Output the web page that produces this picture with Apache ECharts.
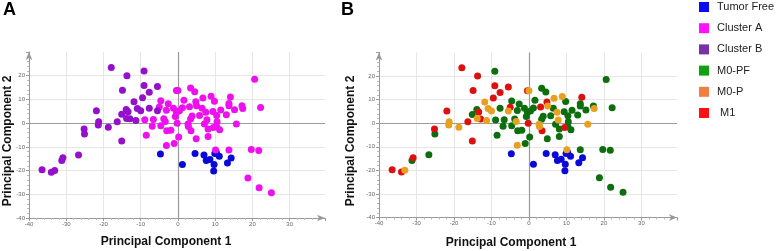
<!DOCTYPE html>
<html><head><meta charset="utf-8">
<script src="https://cdn.jsdelivr.net/npm/echarts@6/dist/echarts.min.js"></script>
<style>html,body{margin:0;padding:0;background:#fff}#c{width:778px;height:251px}</style>
</head><body><div id="c"></div>
<script>
// Tick labels
const xTickLabels = [-40, -30, -20, -10, 0, 10, 20, 30];
const yTickLabels = [-40, -30, -20, -10, 0, 10, 20];

// Tumor Free (same in both panels)
const tumorFree = [[-4.7,-13.0],[1.2,-17.4],[4.6,-12.8],[7.0,-13.4],[7.6,-15.8],[8.6,-15.3],[9.9,-12.8],[11.1,-14.0],[9.7,-17.4],[9.6,-20.2],[13.3,-16.8],[14.3,-14.7],[10.3,-12.3]];

// Cluster A points (panel A) with their panel-B group: PF = M0-PF, P = M0-P, M1 = M1
const clusterA = [
[-4.6,9.4,'PF'],[-5.0,6.8,'M1'],[-6.6,1.5,'PF'],[-6.9,-1.3,'PF'],[-8.5,-5.1,'PF'],[-8.9,1.4,'PF'],
[-4.6,-1.1,'PF'],[-3.8,1.8,'PF'],[-3.1,5.4,'PF'],[-2.6,8.2,'PF'],[-3.1,-9.4,'P'],[-3.0,-3.2,'PF'],
[-1.9,-3.0,'PF'],[-3.4,0.7,'P'],[-1.0,-8.6,'PF'],[-0.4,13.8,'M1'],[0.0,13.8,'P'],[-1.2,6.3,'PF'],
[-0.7,2.8,'PF'],[-0.4,4.6,'PF'],[-0.2,0.0,'M1'],[0.2,-5.8,'PF'],[0.4,5.2,'PF'],[1.2,6.5,'PF'],
[1.6,9.7,'PF'],[3.1,6.9,'M1'],[3.4,14.8,'PF'],[4.5,13.2,'PF'],[3.8,3.0,'PF'],[3.4,1.7,'PF'],
[2.7,-0.4,'P'],[2.8,-1.4,'P'],[3.5,-3.2,'M1'],[4.8,9.0,'M1'],[5.0,7.3,'P'],[4.9,-6.6,'PF'],
[5.8,3.2,'PF'],[6.5,6.3,'PF'],[6.7,10.6,'P'],[7.5,4.6,'P'],[7.1,-0.4,'PF'],[7.8,1.4,'P'],
[8.1,-2.5,'PF'],[8.1,-5.6,'PF'],[8.9,11.3,'P'],[9.4,4.9,'PF'],[9.8,9.2,'PF'],[10.4,3.2,'PF'],
[10.5,0.6,'PF'],[10.4,-1.5,'PF'],[9.5,-1.8,'M1'],[11.2,-2.8,'PF'],[11.5,5.5,'PF'],[10.1,-11.3,'P'],
[13.7,-11.3,'PF'],[13.0,3.5,'PF'],[13.7,7.3,'PF'],[14.1,11.0,'M1'],[13.7,8.3,'PF'],[15.2,5.6,'PF'],
[15.7,-0.4,'P'],[17.2,7.3,'PF'],[17.4,6.2,'P'],[22.2,6.6,'PF'],[20.6,18.5,'PF'],[19.7,-11.1,'PF'],
[21.7,-11.5,'PF'],[18.8,-23.1,'PF'],[21.8,-27.2,'PF'],[25.1,-29.3,'PF']
];

// Cluster B points (panel A) with their panel-B group
const clusterB = [
[-17.9,23.5,'M1'],[-9.1,22.0,'PF'],[-13.7,20.0,'M1'],[-9.1,15.9,'M1'],[-5.5,15.4,'M1'],[-7.7,13.0,'M1'],
[-14.9,13.9,'M1'],[-9.5,10.7,'M1'],[-11.8,9.0,'P'],[-21.9,5.2,'M1'],[-13.9,5.8,'PF'],[-13.4,4.8,'M1'],
[-10.9,6.2,'P'],[-10.0,5.2,'P'],[-7.7,6.3,'PF'],[-15.1,3.7,'PF'],[-13.8,2.0,'P'],[-12.9,1.8,'M1'],
[-11.3,1.1,'P'],[-16.3,0.6,'M1'],[-21.3,0.6,'P'],[-21.4,-0.8,'P'],[-18.7,-1.7,'P'],[-25.2,-2.5,'M1'],
[-25.1,-4.6,'PF'],[-15.1,-7.5,'M1'],[-26.7,-13.4,'PF'],[-30.9,-14.6,'M1'],[-31.2,-15.8,'PF'],
[-36.5,-19.7,'M1'],[-34.0,-20.7,'M1'],[-33.1,-20.0,'P'],[-5.5,5.2,'P']
];

const FONT = 'Arial, "Liberation Sans", sans-serif';
const allPts = clusterA.concat(clusterB);
const pick = g => allPts.filter(p => p[2] === g).map(p => [p[0], p[1]]);
const xy = arr => arr.map(p => [p[0], p[1]]);

function xAxis(gi) {
  return {
    type: 'value', gridIndex: gi, min: -40, max: 39.5, interval: 10,
    axisLine: { show: true, onZero: false, symbol: ['none', 'arrow'], symbolSize: [5, 8], lineStyle: { color: '#999', width: 1 } },
    axisTick: { show: true, length: 3, lineStyle: { color: '#999' } },
    minorTick: { show: true, splitNumber: 5, length: 2, lineStyle: { color: '#bbb' } },
    axisLabel: { fontSize: 6, color: '#666', margin: 3, fontFamily: FONT,
      formatter: v => xTickLabels.indexOf(v) >= 0 ? String(v) : '' },
    splitLine: { show: true, showMaxLine: false, lineStyle: { color: '#e6e6e6' } }
  };
}
function yAxis(gi) {
  return {
    type: 'value', gridIndex: gi, min: -40, max: 30, interval: 10,
    axisLine: { show: true, onZero: false, symbol: ['none', 'arrow'], symbolSize: [5, 8], lineStyle: { color: '#999', width: 1 } },
    axisTick: { show: true, length: 3, lineStyle: { color: '#999' } },
    minorTick: { show: true, splitNumber: 5, length: 2, lineStyle: { color: '#bbb' } },
    axisLabel: { fontSize: 6, color: '#666', margin: 4, fontFamily: FONT,
      formatter: v => yTickLabels.indexOf(v) >= 0 ? String(v) : '' },
    splitLine: { show: true, showMaxLine: false, lineStyle: { color: '#e6e6e6' } }
  };
}
const zeroLines = {
  silent: true, symbol: 'none', animation: false, z: 1,
  label: { show: false },
  lineStyle: { color: '#9a9a9a', width: 1.2, type: 'solid', opacity: 1 },
  emphasis: { disabled: true },
  data: [{ xAxis: 0 }, { yAxis: 0 }]
};
function sc(name, gi, data, color, withZero) {
  const s = { name, type: 'scatter', xAxisIndex: gi, yAxisIndex: gi, data,
    symbolSize: 7, itemStyle: { color, opacity: 1 }, animation: false, z: 3 };
  if (withZero) s.markLine = zeroLines;
  return s;
}

const chart = echarts.init(document.getElementById('c'));
chart.setOption({
  backgroundColor: '#fff',
  animation: false,
  grid: [
    { left: 29, top: 52, width: 296, height: 166 },
    { left: 379, top: 52.5, width: 298, height: 165 }
  ],
  xAxis: [xAxis(0), xAxis(1)],
  yAxis: [yAxis(0), yAxis(1)],
  legend: {
    orient: 'vertical', left: 694, top: -4, itemWidth: 10, itemHeight: 10, itemGap: 9.2,
    icon: 'rect', selectedMode: false,
    textStyle: { fontSize: 11, color: '#222', fontFamily: FONT, lineHeight: 12, padding: [0, 0, 0, 3] },
    data: [
      { name: 'Tumor Free', itemStyle: { color: '#0b0bf0' } },
      { name: 'Cluster A', itemStyle: { color: '#ff10ff' } },
      { name: 'Cluster B', itemStyle: { color: '#7a30a8' } },
      { name: 'M0-PF', itemStyle: { color: '#10a010' } },
      { name: 'M0-P', itemStyle: { color: '#f08040' } },
      { name: 'M1', itemStyle: { color: '#ff1010' }, textStyle: { padding: [0, 0, 0, 6] } }
    ]
  },
  graphic: [
    { type: 'text', left: 3, top: 1, style: { text: 'A', font: 'bold 18px ' + FONT, fill: '#000' } },
    { type: 'text', left: 341, top: 1, style: { text: 'B', font: 'bold 18px ' + FONT, fill: '#000' } },
    { type: 'text', x: 166, y: 242, style: { text: 'Principal Component 1', font: 'bold 12px ' + FONT, fill: '#111', align: 'center', verticalAlign: 'middle', textAlign: 'center', textVerticalAlign: 'middle' } },
    { type: 'text', x: 511, y: 243, style: { text: 'Principal Component 1', font: 'bold 12px ' + FONT, fill: '#111', align: 'center', verticalAlign: 'middle', textAlign: 'center', textVerticalAlign: 'middle' } },
    { type: 'text', x: 8, y: 141, rotation: Math.PI / 2, style: { text: 'Principal Component 2', font: 'bold 12px ' + FONT, fill: '#111', align: 'center', verticalAlign: 'middle', textAlign: 'center', textVerticalAlign: 'middle' } },
    { type: 'text', x: 351, y: 141, rotation: Math.PI / 2, style: { text: 'Principal Component 2', font: 'bold 12px ' + FONT, fill: '#111', align: 'center', verticalAlign: 'middle', textAlign: 'center', textVerticalAlign: 'middle' } }
  ],
  series: [
    sc('Tumor Free', 0, xy(tumorFree), '#0a0ad8', true),
    sc('Cluster A', 0, xy(clusterA), '#ee10ee', false),
    sc('Cluster B', 0, xy(clusterB), '#9410cc', false),
    sc('Tumor Free', 1, xy(tumorFree), '#0a0ad8', true),
    sc('M0-PF', 1, pick('PF'), '#0c6e0c', false),
    sc('M1', 1, pick('M1'), '#dd1010', false),
    sc('M0-P', 1, pick('P'), '#e8a020', false)
  ]
});
</script>
</body></html>
